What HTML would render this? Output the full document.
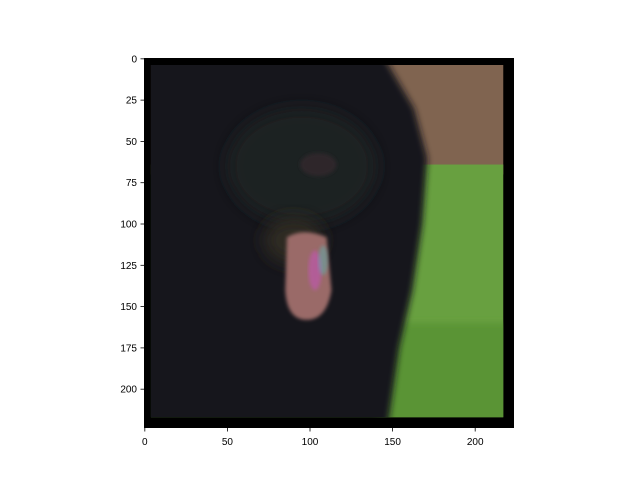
<!DOCTYPE html>
<html><head><meta charset="utf-8"><style>
html,body{margin:0;padding:0;background:#fff;}
#fig{position:relative;width:640px;height:480px;font-family:"Liberation Sans",sans-serif;}
</style></head><body>
<div id="fig">
<svg width="640" height="480">
<defs>
<filter id="blur" x="-20%" y="-20%" width="140%" height="140%"><feGaussianBlur stdDeviation="2"/></filter>
<filter id="blur3" x="-30%" y="-30%" width="160%" height="160%"><feGaussianBlur stdDeviation="5"/></filter>
<filter id="blur2"><feGaussianBlur stdDeviation="1.2"/></filter>
<clipPath id="inner"><rect x="3.7" y="3.7" width="213.3" height="213.3"/></clipPath>
</defs>
<svg x="144" y="58" width="370" height="370" viewBox="-0.5 -0.5 224 224" preserveAspectRatio="none">
<rect x="-0.5" y="-0.5" width="224" height="224" fill="#000"/>
<g clip-path="url(#inner)">
<rect x="0" y="0" width="224" height="70" fill="#806450"/>
<rect x="0" y="64" width="224" height="160" fill="#68a040"/>
<rect x="140" y="160" width="90" height="70" fill="#5a9435" filter="url(#blur)"/>
<path d="M-10,-10 L140,-10 L150,8 L163,30 L171,60 L168,100 L162,140 L154,175 L146,230 L-10,230 Z" fill="#16171a" filter="url(#blur)"/>
<ellipse cx="95" cy="65" rx="45" ry="35" fill="#1e2024" filter="url(#blur3)"/>
<ellipse cx="105" cy="64" rx="11" ry="7" fill="#2e282c" filter="url(#blur2)"/>
<ellipse cx="90" cy="110" rx="18" ry="14" fill="#2e2a24" filter="url(#blur3)"/>
<path d="M86,108 Q96,102 110,108 L113,140 Q110,158 98,158 Q86,158 85,140 Z" fill="#9a6a68" filter="url(#blur2)"/>
<ellipse cx="103" cy="128" rx="4" ry="12" fill="#d050d0" opacity="0.45" filter="url(#blur2)"/>
<ellipse cx="108" cy="122" rx="3" ry="9" fill="#40d0d0" opacity="0.35" filter="url(#blur2)"/>
</g>
</svg>
<g id="xaxis"></g>
<g id="yaxis"></g>
</svg>
</div>
<script>
const xTicks=[0,50,100,150,200];
const yTicks=[0,25,50,75,100,125,150,175,200];
const ns="http://www.w3.org/2000/svg";
const L=144,T=58,S=370/224;
const xs=v=>L+(v+0.5)*S, ys=v=>T+(v+0.5)*S;
function mk(t,a,p){const e=document.createElementNS(ns,t);for(const k in a)e.setAttribute(k,a[k]);p.appendChild(e);return e;}
const xa=document.getElementById('xaxis'),ya=document.getElementById('yaxis');
xTicks.forEach(v=>{
 const l=mk('line',{x1:xs(v),x2:xs(v),y1:428,y2:431.5,stroke:'#000','stroke-width':0.8},xa);
 
 
 const t=mk('text',{x:xs(v),y:445,'text-anchor':'middle','font-size':'10px',fill:'#000'},xa);
 t.textContent=v;
 
 
});
yTicks.forEach(v=>{
 const l=mk('line',{x1:140.5,x2:144,y1:ys(v),y2:ys(v),stroke:'#000','stroke-width':0.8},ya);
 
 
 const t=mk('text',{x:137,y:ys(v)+3.5,'text-anchor':'end','font-size':'10px',fill:'#000'},ya);
 t.textContent=v;
 
 
});
</script>
</body></html>
